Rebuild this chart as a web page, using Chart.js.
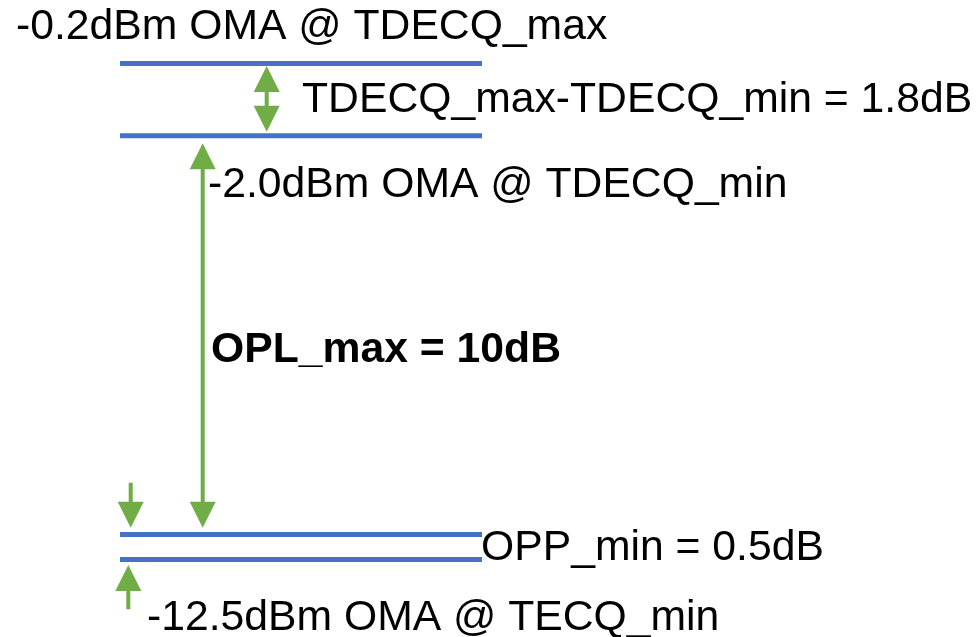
<!DOCTYPE html>
<html>
<head>
<meta charset="utf-8">
<script src="https://cdn.jsdelivr.net/npm/chart.js@4"></script>
<style>
  html, body { margin: 0; padding: 0; background: #ffffff; }
  #wrap { width: 980px; height: 637px; }
</style>
</head>
<body>
<div id="wrap"><canvas id="c" width="980" height="637"></canvas></div>
<script>
// Schematic diagram coordinates (diagram units, x: 0..980, y: 0..637 top-down)
const levelNames = ['TDECQ_max', 'TDECQ_min', 'OPP_upper', 'TECQ_min'];
const levelY = [63.5, 135.7, 534.5, 559.5];
const levelXStart = [120, 120, 120, 120];
const levelXEnd = [482, 482, 482, 482];

const arrowNames = ['TDECQ delta', 'OPL_max', 'OPP top', 'OPP bottom'];
const arrowX = [266.7, 202.7, 130.7, 128.3];
const arrowFrom = [66, 143.3, 482.7, 609.3];
const arrowTo = [131.7, 527.7, 527.7, 565];
const arrowHeadAtFrom = [true, true, false, false];
const arrowHeadAtTo = [true, true, true, true];

const labelTexts = [
  '-0.2dBm OMA @ TDECQ_max',
  'TDECQ_max-TDECQ_min = 1.8dB',
  '-2.0dBm OMA @ TDECQ_min',
  'OPL_max = 10dB',
  'OPP_min = 0.5dB',
  '-12.5dBm OMA @ TECQ_min'
];
const labelX = [16, 302, 208, 211, 481, 147];
const labelY = [39, 112, 197, 362, 560, 630];
const labelBold = [false, false, false, true, false, false];

const BLUE = '#4472C4';
const GREEN = '#70AD47';
const HEAD_LEN = 26;
const HEAD_HALF = 13;

const datasets = [];
levelY.forEach((y, i) => {
  datasets.push({
    label: levelNames[i],
    data: [{x: levelXStart[i], y: y}, {x: levelXEnd[i], y: y}],
    borderColor: BLUE,
    borderWidth: 5,
    pointRadius: 0,
    showLine: true,
    borderCapStyle: 'butt'
  });
});
arrowX.forEach((x, i) => {
  const dir = Math.sign(arrowTo[i] - arrowFrom[i]);
  const a = arrowHeadAtFrom[i] ? arrowFrom[i] + dir * (HEAD_LEN - 4) : arrowFrom[i];
  const b = arrowHeadAtTo[i] ? arrowTo[i] - dir * (HEAD_LEN - 4) : arrowTo[i];
  datasets.push({
    label: arrowNames[i],
    data: [{x: x, y: a}, {x: x, y: b}],
    borderColor: GREEN,
    borderWidth: 4,
    pointRadius: 0,
    showLine: true,
    borderCapStyle: 'butt'
  });
});

const overlay = {
  id: 'overlay',
  afterDatasetsDraw(chart) {
    const ctx = chart.ctx;
    const xs = chart.scales.x, ys = chart.scales.y;
    ctx.save();
    ctx.fillStyle = GREEN;
    const head = (px, tipY, dir) => {
      const tx = xs.getPixelForValue(px), ty = ys.getPixelForValue(tipY);
      ctx.beginPath();
      ctx.moveTo(tx, ty);
      ctx.lineTo(tx - HEAD_HALF, ty - dir * HEAD_LEN);
      ctx.lineTo(tx + HEAD_HALF, ty - dir * HEAD_LEN);
      ctx.closePath();
      ctx.fill();
    };
    arrowX.forEach((x, i) => {
      const dir = Math.sign(arrowTo[i] - arrowFrom[i]);
      if (arrowHeadAtTo[i]) head(x, arrowTo[i], dir);
      if (arrowHeadAtFrom[i]) head(x, arrowFrom[i], -dir);
    });
    ctx.fillStyle = '#000000';
    ctx.textBaseline = 'alphabetic';
    ctx.textAlign = 'left';
    labelTexts.forEach((t, i) => {
      ctx.font = (labelBold[i] ? 'bold ' : '') + '42.7px "Liberation Sans", Arial, sans-serif';
      ctx.fillText(t, xs.getPixelForValue(labelX[i]), ys.getPixelForValue(labelY[i]));
    });
    ctx.restore();
  }
};

new Chart(document.getElementById('c'), {
  type: 'scatter',
  data: { datasets },
  options: {
    responsive: false,
    animation: false,
    devicePixelRatio: 1,
    layout: { padding: 0 },
    plugins: { legend: { display: false }, tooltip: { enabled: false } },
    scales: {
      x: { type: 'linear', min: 0, max: 980, display: false },
      y: { type: 'linear', min: 0, max: 637, reverse: true, display: false }
    }
  },
  plugins: [overlay]
});
</script>
</body>
</html>
